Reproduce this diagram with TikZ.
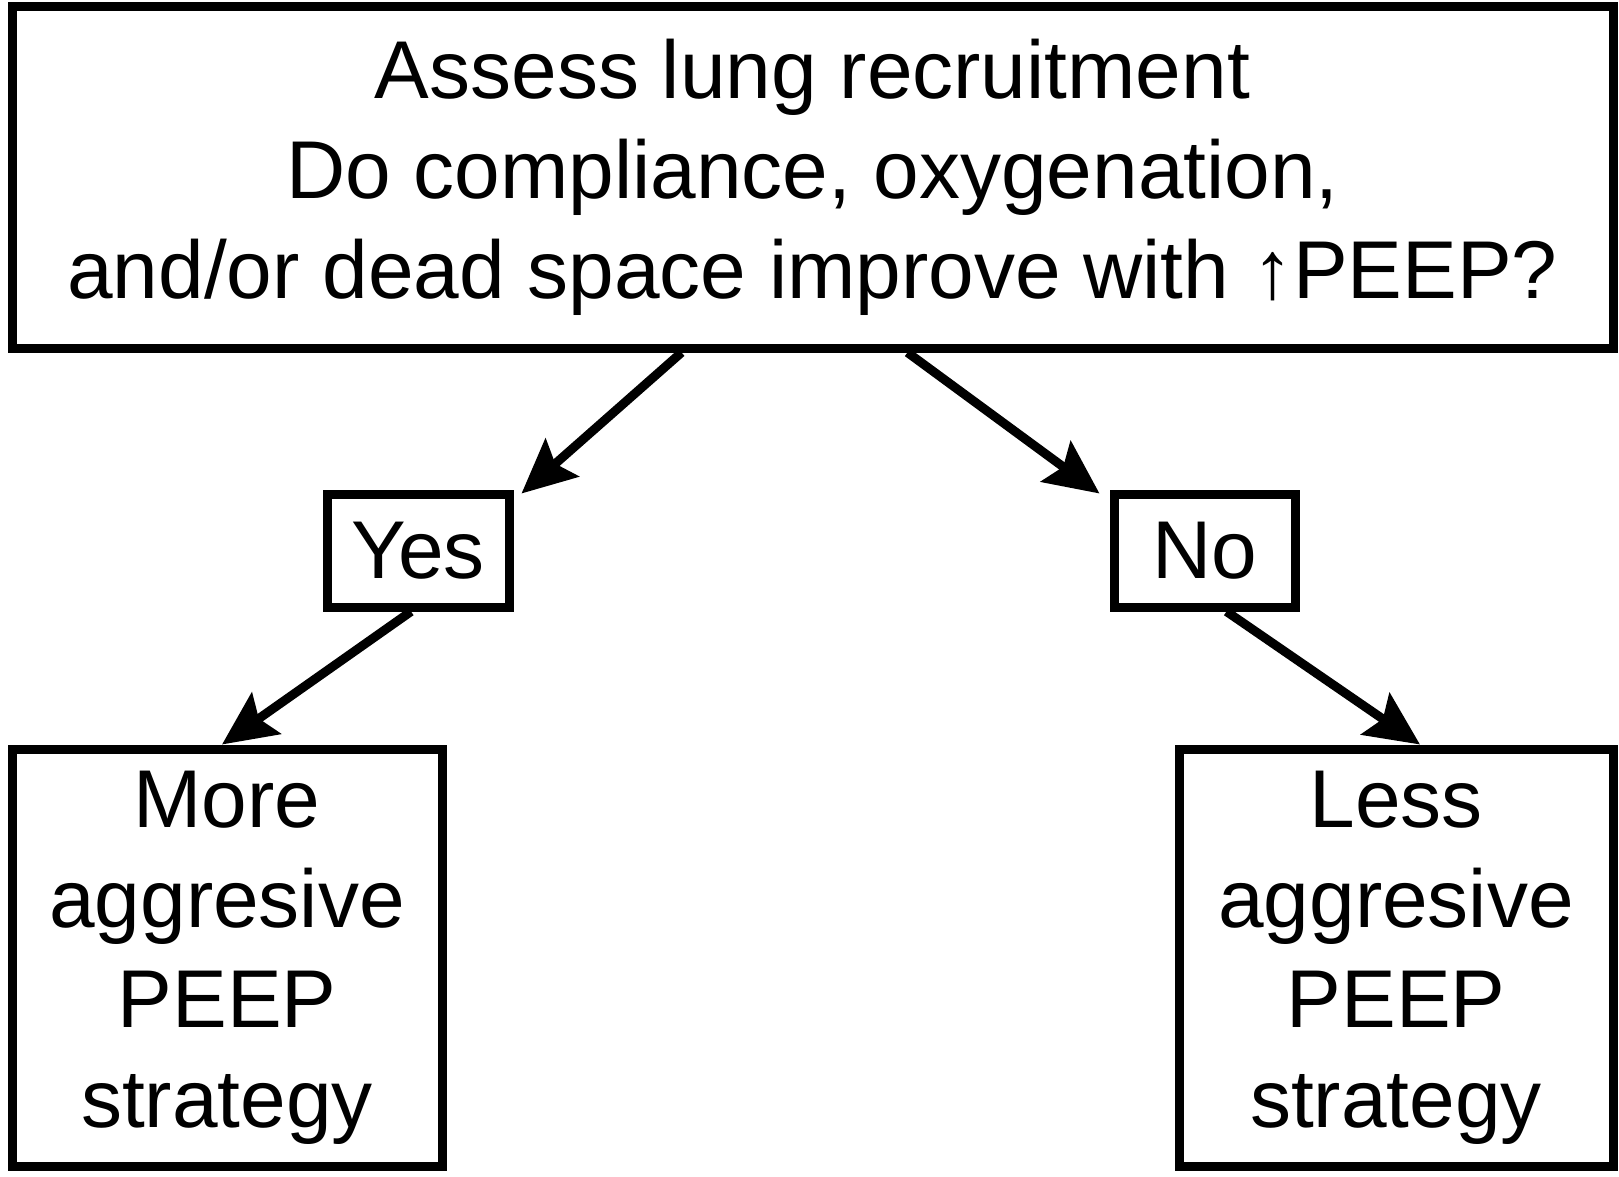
\documentclass[tikz,border=0pt]{standalone}
\usepackage{fontspec}
\setmainfont{Liberation Sans}
\usetikzlibrary{arrows.meta}

\begin{document}
\begin{tikzpicture}[x=1pt, y=-1pt,
  box/.style={draw, line width=9pt, inner sep=0pt, align=center,
    font=\fontsize{82}{100}\selectfont},
  arr/.style={-{Stealth[length=54pt, width=50pt, inset=9pt]}, line width=9pt}]
\useasboundingbox (0, 0) rectangle (1619, 1177);
% the question
\node[box, minimum width=1601pt, minimum height=341pt] (assess) at (812.5, 177.5)
  {Assess lung recruitment\\Do compliance, oxygenation,\\and/or dead space improve with ↑PEEP?};
% answers
\node[box, minimum width=182pt, minimum height=113pt] (yes) at (418, 550.5) {Yes};
\node[box, minimum width=181pt, minimum height=113pt] (no) at (1204.5, 550.5) {No};
% strategies
\node[box, minimum width=430pt, minimum height=417pt] (more) at (227, 957.5)
  {More\\aggresive\\PEEP\\strategy};
\node[box, minimum width=434pt, minimum height=417pt] (less) at (1396, 957.5)
  {Less\\aggresive\\PEEP\\strategy};
% arrows
\draw[arr] ([xshift=-131pt]assess.south) -- ([shift={(8pt,-4pt)}]yes.north east);
\draw[arr] ([xshift=95pt]assess.south) -- ([shift={(-10pt,-4pt)}]no.north west);
\draw[arr] ([xshift=-7pt]yes.south) -- ([xshift=-5pt]more.north);
\draw[arr] ([xshift=22pt]no.south) -- ([xshift=24pt]less.north);
\end{tikzpicture}
\end{document}
